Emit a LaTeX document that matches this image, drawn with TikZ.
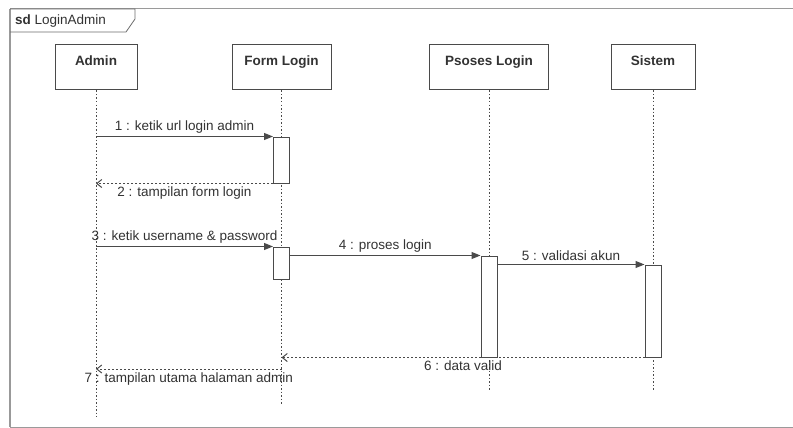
\documentclass[tikz,border=0pt]{standalone}
\usepackage{fontspec}
\setmainfont{Liberation Sans}
\usetikzlibrary{arrows.meta}

\definecolor{inkline}{HTML}{4A4A4A}
\definecolor{inktext}{HTML}{333333}
\definecolor{framegray}{HTML}{9A9A9A}

\tikzset{
  lbl/.style={text=inktext, font=\fontsize{13.5}{15}\selectfont, inner sep=2pt},
  participant/.style={draw=inkline, line width=1pt, fill=white, inner sep=0pt,
    minimum width=#1, minimum height=45pt, text height=21pt, text depth=24pt,
    text=inktext, font=\fontsize{13.5}{15}\selectfont\bfseries},
  activation/.style={draw=inkline, line width=1pt, fill=white, inner sep=0pt,
    minimum width=16pt, minimum height=#1},
  lifeline/.style={draw=inkline, line width=1pt, dash pattern=on 1.5pt off 2pt},
  callmsg/.style={draw=inkline, line width=1pt, -{Triangle[length=9pt,width=7pt]}},
  retmsg/.style={draw=inkline, line width=1pt, dash pattern=on 2pt off 2pt,
    -{Straight Barb[length=5pt,width=8pt]}},
}

\begin{document}
\begin{tikzpicture}[x=1pt,y=-1pt]
\useasboundingbox (0,0) rectangle (793,428);
\fill[white] (0,0) rectangle (793,428);

% diagram frame and its name tab
\draw[framegray, line width=1pt] (10,9) -- (800,9);
\draw[framegray, line width=1pt] (10,427) -- (800,427);
\draw[black!40, line width=2pt] (10,9) -- (10,427);
\draw[inkline!80, line width=0.8pt] (10,9) -- (135,9) -- (135,19) -- (126,32) -- (10,32);
\node[lbl, anchor=west] (title) at (13,21) {\textbf{sd} LoginAdmin};

% participants
\node[participant=82pt]  (admin)  at (96,67.5)  {Admin};
\node[participant=99pt]  (form)   at (281.5,67.5) {Form Login};
\node[participant=119pt] (proses) at (489,67.5) {Psoses Login};
\node[participant=84pt]  (sistem) at (653,67.5) {Sistem};

% lifeline ends and message levels
\coordinate (adminEnd)  at (96,417);
\coordinate (formEnd)   at (281.5,405);
\coordinate (prosesEnd) at (489,390);
\coordinate (sistemEnd) at (653,390);
\coordinate (lvlSeven)  at (0,369);

\draw[lifeline] (admin.south)  -- (adminEnd);
\draw[lifeline] (form.south)   -- (formEnd);
\draw[lifeline] (proses.south) -- (prosesEnd);
\draw[lifeline] (sistem.south) -- (sistemEnd);

% activation bars
\node[activation=46pt]  (actA) at (281.5,160)   {};
\node[activation=32pt]  (actB) at (281.5,263)   {};
\node[activation=101pt] (actC) at (489,306.5)   {};
\node[activation=92pt]  (actD) at (653,311)     {};

% messages
\draw[callmsg] (admin.south |- actA.north) -- node[lbl, above=1pt] (m1) {1 : ketik url login admin} (actA.north west);
\draw[retmsg] (actA.south west) -- node[lbl, below=1pt] (m2) {2 : tampilan form login} (admin.south |- actA.south);
\draw[callmsg] (admin.south |- actB.north) -- node[lbl, above=1pt] (m3) {3 : ketik username \& password} (actB.north west);
\draw[callmsg] (actB.east |- actC.north) -- node[lbl, above=1pt] (m4) {4 : proses login} (actC.north west);
\draw[callmsg] (actC.east |- actD.north) -- node[lbl, above=1pt] (m5) {5 : validasi akun} (actD.north west);
\draw[retmsg] (actD.south west) -- node[lbl, below=1pt] (m6) {6 : data valid} (form.south |- actD.south);
\draw[retmsg] (form.south |- lvlSeven) -- node[lbl, below=1pt] (m7) {7 : tampilan utama halaman admin} (admin.south |- lvlSeven);
\end{tikzpicture}
\end{document}
